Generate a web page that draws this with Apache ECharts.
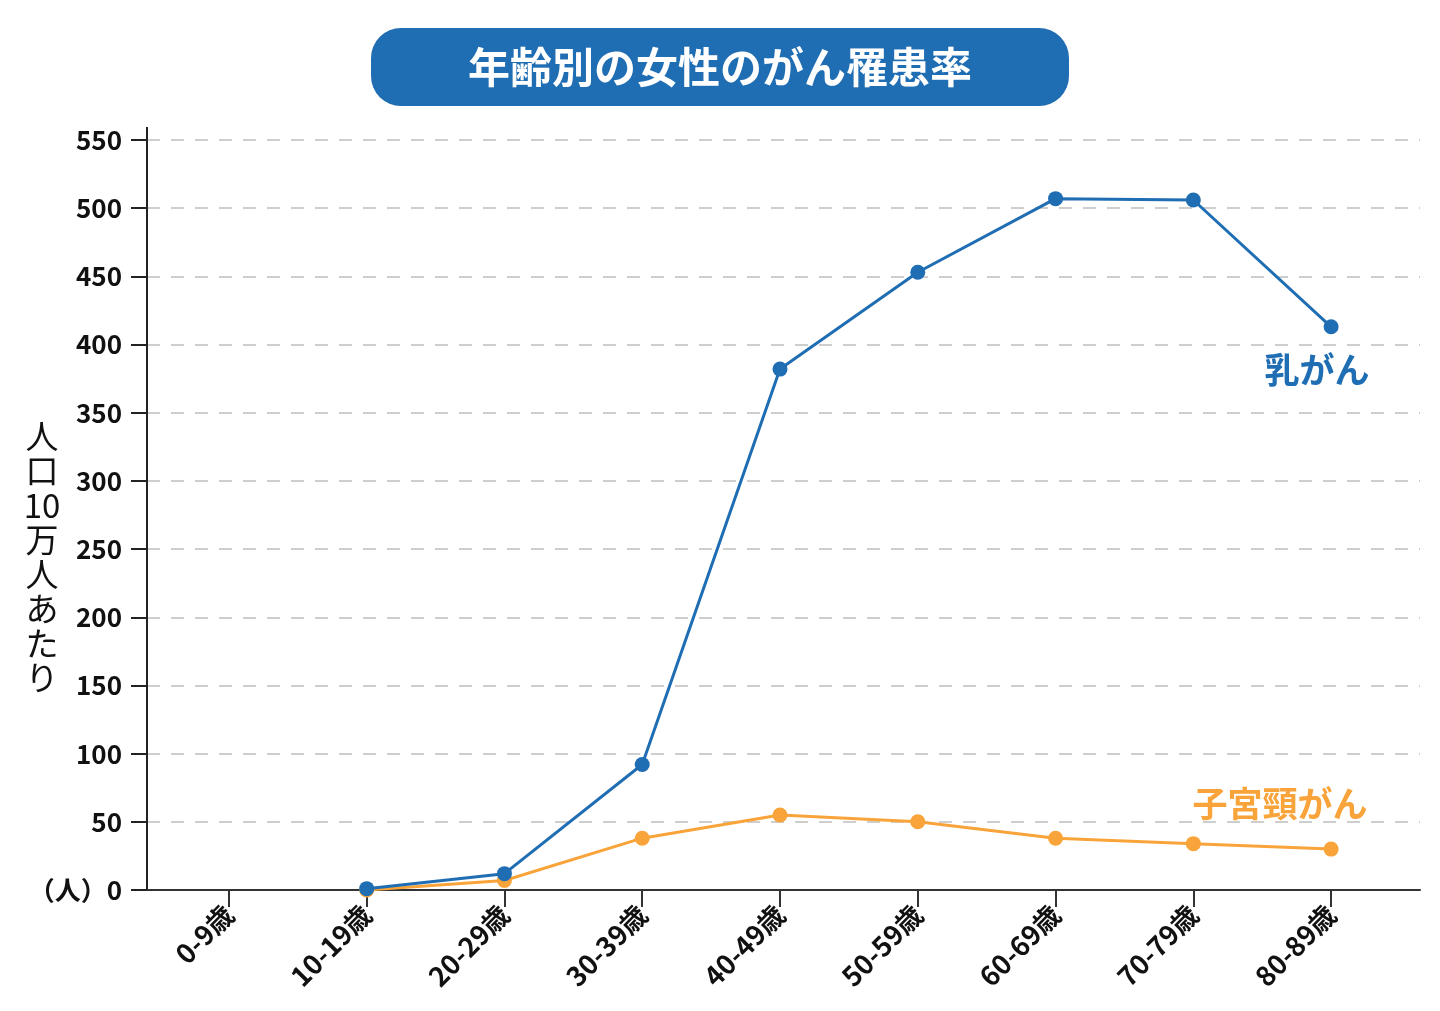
<!DOCTYPE html>
<html>
<head>
<meta charset="utf-8">
<script src="https://cdn.jsdelivr.net/npm/echarts@6/dist/echarts.min.js"></script>
<style>
html,body{margin:0;padding:0;background:#fff;}
#main{width:1440px;height:1011px;}
</style>
</head>
<body>
<div id="main"></div>
<script>
const titleText = '年齢別の女性のがん罹患率';
const yAxisName = ['人','口','10','万','人','あ','た','り'];
const categories = ['0-9歳','10-19歳','20-29歳','30-39歳','40-49歳','50-59歳','60-69歳','70-79歳','80-89歳'];
const breastName = '乳がん';
const breastValues = [null, 1, 12, 92, 382, 453, 507, 506, 413];
const cervicalName = '子宮頸がん';
const cervicalValues = [null, 0, 7, 38, 55, 50, 38, 34, 30];
const yMin = 0, yMax = 550, yInterval = 50;

const BLUE = '#1f6db3';
const ORANGE = '#f9a43a';
const FONT = '"Noto Sans CJK JP", "Noto Sans", sans-serif';

function withEndLabel(values, labelOpt) {
  return values.map((v, i) => i === values.length - 1 ? { value: v, label: labelOpt } : v);
}

const chart = echarts.init(document.getElementById('main'));
chart.setOption({
  backgroundColor: '#fff',
  animation: false,
  textStyle: { fontFamily: FONT },
  grid: [
    { left: 147, right: 20, top: 140, bottom: 121 },
    { left: 160, right: 40, top: 140, bottom: 121 }
  ],
  xAxis: [
    {
      gridIndex: 0, type: 'value', min: 0, max: 1,
      axisLine: { show: true, onZero: false, lineStyle: { color: '#333', width: 2 } },
      axisTick: { show: false }, axisLabel: { show: false }, splitLine: { show: false }
    },
    {
      gridIndex: 1, type: 'category', data: categories, boundaryGap: true,
      axisLine: { show: false },
      axisTick: { show: true, alignWithLabel: true, length: 17, lineStyle: { color: '#333', width: 2 } },
      axisLabel: { rotate: 45, margin: 20, fontSize: 27, fontWeight: 600, color: '#111', fontFamily: FONT, interval: 0 },
      splitLine: { show: false }
    }
  ],
  yAxis: [
    {
      gridIndex: 0, type: 'value', min: yMin, max: yMax, interval: yInterval,
      axisLine: { show: true, lineStyle: { color: '#222', width: 2 } },
      axisTick: { show: true, length: 16, lineStyle: { color: '#222', width: 2 } },
      axisLabel: {
        margin: 25, fontSize: 26, fontWeight: 600, color: '#111', fontFamily: FONT,
        formatter: v => v === 0 ? '（人）0' : String(v)
      },
      splitLine: { show: true, lineStyle: { color: '#bfbfbf', width: 1.5, type: [13, 11] } }
    },
    {
      gridIndex: 1, type: 'value', min: yMin, max: yMax, interval: yInterval, show: false,
      splitLine: { show: false }
    }
  ],
  graphic: [
    {
      type: 'rect', shape: { x: 371, y: 28, width: 698, height: 78, r: 30 },
      style: { fill: BLUE }, z: 10
    },
    {
      type: 'text', x: 720, y: 67, z: 11,
      style: { text: titleText, fill: '#fff', font: 'bold 42px ' + FONT, align: 'center', verticalAlign: 'middle' }
    },
    {
      type: 'text', x: 42, y: 419, z: 11,
      style: { text: yAxisName.join('\n'), fill: '#111', font: '400 33px ' + FONT, lineHeight: 34.5, align: 'center', verticalAlign: 'top' }
    },
    {
      type: 'line', shape: { x1: 147, y1: 127, x2: 147, y2: 141 },
      style: { stroke: '#222', lineWidth: 2 }
    }
  ],
  series: [
    {
      name: cervicalName, type: 'line', xAxisIndex: 1, yAxisIndex: 1,
      data: withEndLabel(cervicalValues, {
        show: true, formatter: '{a}', position: 'top', distance: 20, offset: [-51, 0],
        fontSize: 35, fontWeight: 'bold', color: ORANGE, fontFamily: FONT
      }),
      symbol: 'circle', symbolSize: 15,
      lineStyle: { color: ORANGE, width: 3 }, itemStyle: { color: ORANGE },
      z: 3
    },
    {
      name: breastName, type: 'line', xAxisIndex: 1, yAxisIndex: 1,
      data: withEndLabel(breastValues, {
        show: true, formatter: '{a}', position: 'bottom', distance: 18, offset: [-14, 0],
        fontSize: 35, fontWeight: 'bold', color: BLUE, fontFamily: FONT
      }),
      symbol: 'circle', symbolSize: 15,
      lineStyle: { color: BLUE, width: 3 }, itemStyle: { color: BLUE },
      z: 4
    }
  ]
});
</script>
</body>
</html>
